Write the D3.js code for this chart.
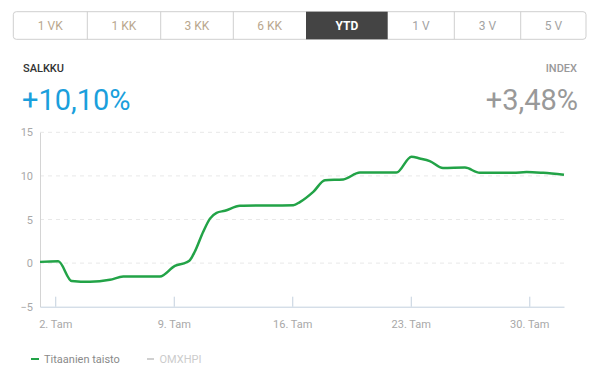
<!DOCTYPE html>
<html><head><meta charset="utf-8">
<script src="https://cdn.jsdelivr.net/npm/d3@7"></script>
<style>
body{margin:0;background:#fff;}
svg{display:block;font-family:Roboto,"Open Sans",sans-serif;}
</style></head>
<body>
<svg id="c" width="595" height="381"></svg>
<script>
// ---- data ----
const periods = ["1 VK","1 KK","3 KK","6 KK","YTD","1 V","3 V","5 V"];
const activePeriod = "YTD";
const portfolioLabel = "SALKKU";
const portfolioReturn = "+10,10%";
const indexLabel = "INDEX";
const indexReturn = "+3,48%";
const seriesNames = ["Titaanien taisto","OMXHPI"];
const dates = [
 "2017-01-01T02:24Z","2017-01-02T04:19Z","2017-01-02T23:17Z","2017-01-04T01:12Z","2017-01-05T05:31Z",
 "2017-01-06T00:29Z","2017-01-08T04:19Z","2017-01-09T01:41Z","2017-01-09T18:14Z","2017-01-09T23:00Z",
 "2017-01-10T05:46Z","2017-01-10T17:46Z","2017-01-11T03:22Z","2017-01-11T12:43Z","2017-01-12T00:29Z",
 "2017-01-12T21:50Z","2017-01-16T01:26Z","2017-01-16T10:48Z","2017-01-17T05:46Z","2017-01-17T22:19Z",
 "2017-01-19T00:14Z","2017-01-20T00:00Z","2017-01-22T03:36Z","2017-01-23T00:58Z","2017-01-23T12:43Z",
 "2017-01-24T02:53Z","2017-01-24T21:36Z","2017-01-26T04:48Z","2017-01-27T01:55Z","2017-01-29T01:12Z",
 "2017-01-29T20:10Z","2017-01-30T19:41Z","2017-02-01T01:12Z"];
const portfolioValues = [
 0.14,0.2,-2.05,-2.15,-1.92,
 -1.54,-1.54,-0.32,0.1,0.35,
 1.3,3.6,5.1,5.77,6.0,
 6.57,6.64,7.0,8.17,9.5,
 9.6,10.38,10.38,12.2,12.0,
 11.7,10.9,10.95,10.35,10.35,
 10.45,10.35,10.12];
const yTicks = [-5,0,5,10,15];
const xTickDates = ["2017-01-02T00:00Z","2017-01-09T00:00Z","2017-01-16T00:00Z","2017-01-23T00:00Z","2017-01-30T00:00Z"];
const xTickLabels = ["2. Tam","9. Tam","16. Tam","23. Tam","30. Tam"];

// ---- layout ----
const svg = d3.select("#c");
const btnEdges = [13.3,87.3,160.7,233.3,306,387.7,454.3,520.7,586];
const btnTop = 11.7, btnH = 27.6;
const plotL = 40, plotR = 564, plotT = 132.3, plotB = 306.7;

// buttons
const bg = svg.append("g");
bg.append("rect").attr("x",btnEdges[0]).attr("y",btnTop).attr("width",btnEdges[8]-btnEdges[0]).attr("height",btnH)
  .attr("rx",3).attr("fill","#fff").attr("stroke","#cfcfcf");
periods.forEach((p,i)=>{
  const x0 = btnEdges[i], x1 = btnEdges[i+1];
  if(p===activePeriod){
    bg.append("rect").attr("x",x0).attr("y",btnTop).attr("width",x1-x0).attr("height",btnH).attr("fill","#444");
  } else if(i>0 && periods[i-1]!==activePeriod){
    bg.append("line").attr("x1",x0).attr("x2",x0).attr("y1",btnTop).attr("y2",btnTop+btnH).attr("stroke","#cfcfcf");
  }
  bg.append("text").attr("x",(x0+x1)/2).attr("y",btnTop+btnH/2).attr("dy","0.35em").attr("text-anchor","middle")
    .attr("font-size",12).attr("font-weight",p===activePeriod?"bold":"normal")
    .attr("fill",p===activePeriod?"#fff":(i<4?"#b9a78e":"#a3a3a3")).text(p);
});

// headline
svg.append("text").attr("x",23).attr("y",72).attr("font-size",11).attr("font-weight",500).attr("fill","#333").text(portfolioLabel);
svg.append("text").attr("x",22).attr("y",109.5).attr("font-size",29).attr("fill","#1a9fdc").text(portfolioReturn);
svg.append("text").attr("x",577).attr("y",72).attr("text-anchor","end").attr("font-size",11).attr("font-weight",500).attr("fill","#999").text(indexLabel);
svg.append("text").attr("x",578).attr("y",109.5).attr("text-anchor","end").attr("font-size",29).attr("fill","#999").text(indexReturn);

// scales
const pd = dates.map(d=>new Date(d));
const x = d3.scaleUtc().domain([pd[0], pd[pd.length-1]]).range([plotL, plotR]);
const y = d3.scaleLinear().domain([-5,15]).range([plotB, plotT]);

// gridlines
svg.append("g").selectAll("line").data(yTicks.filter(t=>t>-5)).join("line")
  .attr("x1",plotL).attr("x2",plotR).attr("y1",d=>y(d)).attr("y2",d=>y(d))
  .attr("stroke","#e8e8e8").attr("stroke-dasharray","4,4");

// y axis
const yAxis = svg.append("g").attr("transform",`translate(${plotL},0)`)
  .call(d3.axisLeft(y).tickValues(yTicks).tickSize(0).tickPadding(7).tickFormat(d3.format("d")));
yAxis.select(".domain").attr("stroke","#d4d4d4");
yAxis.selectAll("text").attr("font-size",11).attr("fill","#a8a8a8").attr("font-family","Roboto,sans-serif");

// x axis
const xAxis = svg.append("g").attr("transform",`translate(0,${plotB})`)
  .call(d3.axisBottom(x).tickValues(xTickDates.map(d=>new Date(d))).tickSizeOuter(0).tickSizeInner(-10).tickPadding(14)
    .tickFormat((d,i)=>xTickLabels[i]));
xAxis.select(".domain").attr("stroke","#c3d0de");
xAxis.selectAll(".tick line").attr("stroke","#c3d0de");
xAxis.selectAll("text").attr("font-size",11).attr("fill","#a8a8a8").attr("font-family","Roboto,sans-serif");

// line
const line = d3.line().x((d,i)=>x(pd[i])).y(d=>y(d)).curve(d3.curveMonotoneX);
svg.append("path").attr("d",line(portfolioValues)).attr("fill","none").attr("stroke","#22a347").attr("stroke-width",2.5)
  .attr("stroke-linejoin","round");

// legend
const lg = svg.append("g");
lg.append("line").attr("x1",31).attr("x2",39).attr("y1",359).attr("y2",359).attr("stroke","#22a347").attr("stroke-width",2);
lg.append("text").attr("x",44).attr("y",362.5).attr("font-size",11).attr("fill","#8a8a8a").text(seriesNames[0]);
lg.append("line").attr("x1",147).attr("x2",154).attr("y1",359).attr("y2",359).attr("stroke","#d0d0d0").attr("stroke-width",2);
lg.append("text").attr("x",159.5).attr("y",362.5).attr("font-size",11).attr("fill","#cccccc").text(seriesNames[1]);
</script>
</body></html>
